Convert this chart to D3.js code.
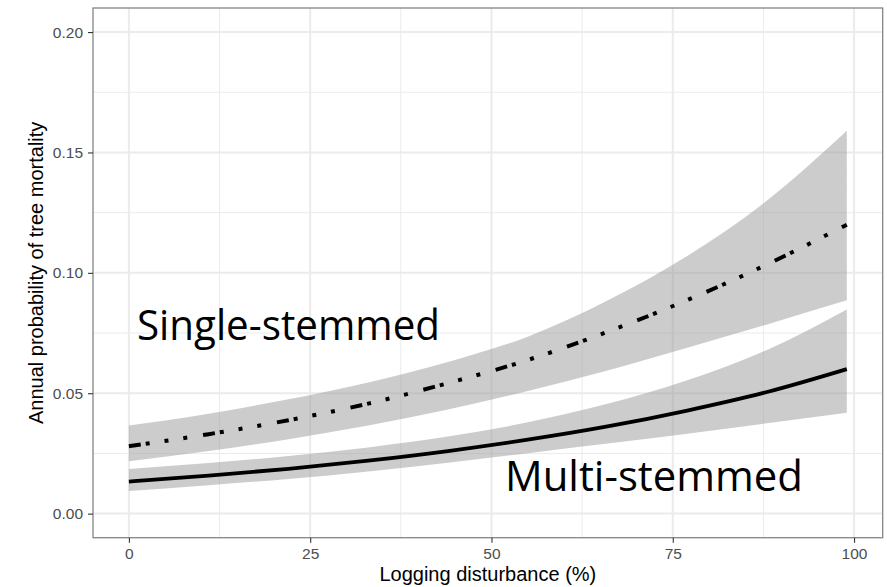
<!DOCTYPE html>
<html lang="en">
<head>
<meta charset="UTF-8" />
<title>Annual probability of tree mortality</title>
<script src="https://d3js.org/d3.v7.min.js"></script>
<style>
  body { margin: 0; background: #fff; }
  svg { display: block; }
  .tick text { font-family: "Liberation Sans", Arial, sans-serif; font-size: 15.5px; fill: #4d4d4d; }
  .tick line { stroke: #333; stroke-width: 1.1; }
  .axis-title { font-family: "Liberation Sans", Arial, sans-serif; font-size: 20px; fill: #000; }
  .group-label { font-family: "Open Sans", sans-serif; font-size: 42px; fill: #000; }
</style>
</head>
<body>
<div id="chart"></div>
<script>
// values
const xs = [0, 11, 22, 33, 44, 55, 66, 77, 88, 99];
const singleFit = [0.028, 0.033, 0.0388, 0.0457, 0.0542, 0.0638, 0.0755, 0.0887, 0.1035, 0.120];
const singleLow = [0.0218, 0.026, 0.0309, 0.0366, 0.0432, 0.0509, 0.0594, 0.0689, 0.0786, 0.0886];
const singleUp = [0.0366, 0.0415, 0.0475, 0.0545, 0.063, 0.0735, 0.0885, 0.107, 0.130, 0.159];
const multiFit = [0.0133, 0.0158, 0.0186, 0.022, 0.026, 0.0307, 0.0362, 0.0428, 0.0505, 0.060];
const multiLow = [0.0094, 0.0118, 0.0144, 0.0175, 0.0211, 0.0251, 0.0291, 0.0332, 0.0375, 0.0419];
const multiUp = [0.0185, 0.021, 0.0239, 0.0275, 0.032, 0.0379, 0.0456, 0.0554, 0.068, 0.0848];

const xTicks = [0, 25, 50, 75, 100];
const xMinor = [12.5, 37.5, 62.5, 87.5];
const yTicks = [0, 0.05, 0.10, 0.15, 0.20];
const yMinor = [0.025, 0.075, 0.125, 0.175];

const W = 887, H = 587;
const margin = { top: 8, right: 4.3, bottom: 49.3, left: 93 };
const width = W - margin.left - margin.right,
  height = H - margin.top - margin.bottom;

const svg = d3.select("#chart").append("svg")
  .attr("width", W).attr("height", H);
const g = svg.append("g")
  .attr("transform", `translate(${margin.left},${margin.top})`);

// ggplot-style 5% expansion
const x = d3.scaleLinear().domain([-4.95, 103.95]).range([0, width]);
const y = d3.scaleLinear().domain([-0.01, 0.21]).range([height, 0]);

// grid
g.selectAll(".minor-x").data(xMinor).enter().append("line")
  .attr("x1", d => x(d)).attr("x2", d => x(d)).attr("y1", 0).attr("y2", height)
  .attr("stroke", "#ebebeb").attr("stroke-width", 1);
g.selectAll(".minor-y").data(yMinor).enter().append("line")
  .attr("y1", d => y(d)).attr("y2", d => y(d)).attr("x1", 0).attr("x2", width)
  .attr("stroke", "#ebebeb").attr("stroke-width", 1);
g.selectAll(".major-x").data(xTicks).enter().append("line")
  .attr("x1", d => x(d)).attr("x2", d => x(d)).attr("y1", 0).attr("y2", height)
  .attr("stroke", "#ebebeb").attr("stroke-width", 2);
g.selectAll(".major-y").data(yTicks).enter().append("line")
  .attr("y1", d => y(d)).attr("y2", d => y(d)).attr("x1", 0).attr("x2", width)
  .attr("stroke", "#ebebeb").attr("stroke-width", 2);

const single = xs.map((v, i) => ({ x: v, fit: singleFit[i], lo: singleLow[i], hi: singleUp[i] }));
const multi = xs.map((v, i) => ({ x: v, fit: multiFit[i], lo: multiLow[i], hi: multiUp[i] }));

const area = d3.area()
  .x(d => x(d.x)).y0(d => y(d.lo)).y1(d => y(d.hi))
  .curve(d3.curveMonotoneX);
const line = d3.line()
  .x(d => x(d.x)).y(d => y(d.fit))
  .curve(d3.curveMonotoneX);

// confidence ribbons
[single, multi].forEach(s => {
  g.append("path").datum(s).attr("d", area)
    .attr("fill", "#999").attr("fill-opacity", 0.5);
});

// fitted lines
g.append("path").datum(multi).attr("d", line)
  .attr("fill", "none").attr("stroke", "#000").attr("stroke-width", 3.8);
g.append("path").datum(single).attr("d", line)
  .attr("fill", "none").attr("stroke", "#000").attr("stroke-width", 4)
  .attr("stroke-dasharray", "12,5,4,15,4,15,4,16");

// panel border
g.append("rect").attr("width", width).attr("height", height)
  .attr("fill", "none").attr("stroke", "#858585").attr("stroke-width", 1.3);

// axes
const xAxis = g.append("g").attr("transform", `translate(0,${height})`)
  .call(d3.axisBottom(x).tickValues(xTicks).tickSize(5).tickPadding(5).tickFormat(d3.format("d")));
xAxis.select(".domain").remove();

const yAxis = g.append("g")
  .call(d3.axisLeft(y).tickValues(yTicks).tickSize(5).tickPadding(5).tickFormat(d3.format(".2f")));
yAxis.select(".domain").remove();

// axis titles
svg.append("text").attr("class", "axis-title")
  .attr("x", margin.left + width / 2).attr("y", 581)
  .attr("text-anchor", "middle")
  .text("Logging disturbance (%)");
svg.append("text").attr("class", "axis-title")
  .attr("transform", `translate(43,${margin.top + height / 2}) rotate(-90)`)
  .attr("text-anchor", "middle")
  .text("Annual probability of tree mortality");

// group labels
svg.append("text").attr("class", "group-label")
  .attr("x", 137).attr("y", 340)
  .attr("textLength", 303).attr("lengthAdjust", "spacingAndGlyphs")
  .text("Single-stemmed");
svg.append("text").attr("class", "group-label")
  .attr("x", 505).attr("y", 491)
  .attr("textLength", 298).attr("lengthAdjust", "spacingAndGlyphs")
  .text("Multi-stemmed");
</script>
</body>
</html>
